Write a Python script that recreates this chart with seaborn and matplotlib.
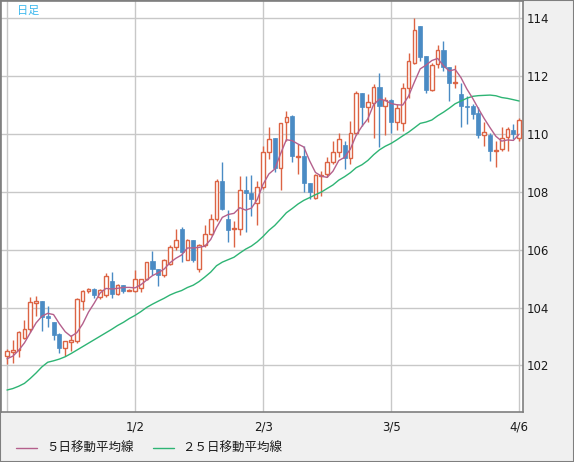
import numpy as np
import pandas as pd
import matplotlib
matplotlib.use("Agg")
import matplotlib.pyplot as plt
import seaborn as sns
from matplotlib.lines import Line2D
from matplotlib.patches import Rectangle

# ---------------- data ----------------
opens = [102.33, 102.47, 102.53, 102.96, 103.27, 104.16, 104.22, 103.71, 103.49, 103.08,
         102.61, 102.81, 102.85, 104.23, 104.56, 104.65, 104.37, 104.42, 104.91, 104.46,
         104.77, 104.59, 104.57, 104.69, 105.00, 105.60, 105.34, 105.11, 105.52, 106.09,
         106.72, 105.65, 106.32, 105.34, 106.15, 106.55, 107.07, 108.39, 107.05, 106.70,
         106.73, 108.05, 107.97, 107.62, 108.16, 109.37, 109.85, 108.82, 110.43, 110.61,
         109.20, 109.25, 108.32, 107.79, 108.56, 108.62, 109.02, 109.37, 109.62, 109.16,
         110.03, 111.41, 110.92, 111.09, 111.63, 110.97, 111.17, 110.40, 110.37, 111.58,
         112.47, 113.73, 112.70, 111.53, 112.43, 112.89, 112.32, 111.76, 111.40, 110.97,
         110.97, 110.74, 109.97, 109.97, 109.40, 109.48, 109.90, 110.14, 109.88]
highs = [102.56, 102.87, 103.19, 103.56, 104.37, 104.40, 104.22, 104.04, 103.50, 103.13,
         102.84, 103.05, 104.33, 104.62, 104.69, 104.66, 104.65, 105.19, 105.23, 104.83,
         104.78, 104.63, 105.29, 105.00, 105.58, 105.94, 105.34, 105.69, 106.15, 106.72,
         106.78, 106.38, 106.32, 106.20, 106.84, 107.24, 108.45, 109.02, 107.36, 107.01,
         108.56, 108.56, 108.60, 108.39, 109.60, 110.23, 109.85, 110.38, 110.80, 110.67,
         109.66, 109.60, 108.32, 108.62, 108.73, 109.19, 109.77, 110.05, 109.77, 110.46,
         111.49, 111.41, 111.38, 111.72, 112.12, 111.28, 111.20, 111.03, 111.78, 112.81,
         114.00, 113.73, 112.70, 112.47, 113.08, 113.22, 112.32, 112.39, 111.78, 111.32,
         111.05, 110.92, 110.40, 110.02, 109.77, 110.23, 110.23, 110.34, 110.57]
lows = [102.04, 102.09, 102.30, 102.93, 103.16, 103.70, 103.19, 103.33, 102.87, 102.43,
        102.32, 102.50, 102.79, 103.91, 104.50, 104.33, 104.30, 104.37, 104.34, 104.42,
        104.50, 104.57, 104.54, 104.54, 104.94, 105.11, 104.73, 105.06, 105.46, 105.98,
        105.57, 105.63, 105.57, 105.23, 106.10, 106.50, 107.01, 107.36, 106.26, 106.09,
        106.50, 106.60, 107.18, 106.84, 108.10, 109.14, 108.68, 108.05, 109.77, 109.02,
        108.62, 107.99, 107.76, 107.76, 107.87, 108.50, 108.96, 109.19, 108.79, 108.96,
        109.97, 110.29, 110.40, 109.88, 109.54, 109.97, 110.05, 110.14, 110.11, 111.26,
        112.41, 112.53, 111.43, 111.49, 112.30, 112.18, 111.15, 111.60, 110.25, 110.34,
        110.52, 109.88, 109.60, 109.08, 108.85, 109.42, 109.42, 109.82, 109.77]
closes = [102.50, 102.53, 103.15, 103.27, 104.19, 104.22, 103.68, 103.65, 103.05, 102.61,
          102.84, 102.87, 104.29, 104.56, 104.65, 104.42, 104.60, 105.08, 104.46, 104.77,
          104.57, 104.61, 105.00, 105.00, 105.58, 105.34, 105.11, 105.63, 106.09, 106.34,
          105.92, 106.32, 105.65, 106.18, 106.55, 107.07, 108.39, 107.41, 106.67, 106.75,
          108.05, 107.97, 107.75, 108.16, 109.39, 109.83, 108.82, 110.38, 110.60, 109.23,
          109.25, 108.30, 107.99, 108.59, 108.60, 109.02, 109.37, 109.83, 109.16, 110.03,
          111.41, 110.92, 111.11, 111.63, 110.97, 111.17, 110.40, 110.89, 111.58, 112.53,
          113.59, 112.68, 111.53, 112.38, 112.89, 112.32, 111.78, 111.80, 110.97, 110.94,
          110.71, 109.97, 110.08, 109.40, 109.45, 109.88, 110.17, 110.00, 110.48]

# moving-average values before enough visible closes exist
ma5_head = [102.23, 102.32, 102.52, 102.78]
ma25_head = [101.15, 101.20, 101.28, 101.38, 101.55, 101.74, 101.95, 102.11, 102.16, 102.22,
             102.30, 102.41, 102.53, 102.65, 102.77, 102.89, 103.01, 103.13, 103.25, 103.38,
             103.49, 103.62, 103.73, 103.86]

xtick_idx = [0, 22, 44, 66, 88]
xtick_labels = ["", "1/2", "2/3", "3/5", "4/6"]
ytick_vals = [102, 104, 106, 108, 110, 112, 114]
legend_labels = ["５日移動平均線", "２５日移動平均線"]
title_text = "日足"

# ---------------- build frame ----------------
df = pd.DataFrame({"open": opens, "high": highs, "low": lows, "close": closes})
df["idx"] = np.arange(len(df))
ma5 = df["close"].rolling(5).mean().to_numpy()
ma5[:len(ma5_head)] = ma5_head
ma25 = df["close"].rolling(25).mean().to_numpy()
ma25[:len(ma25_head)] = ma25_head
df["ma5"] = ma5
df["ma25"] = ma25

RED = "#dc6444"
BLUE = "#4a8bc4"
C_MA5 = "#b4608c"
C_MA25 = "#2eb474"

sns.set_theme(style="white")
plt.rcParams["font.family"] = ["DejaVu Sans", "Noto Sans CJK JP"]

W, H = 574, 462
fig = plt.figure(figsize=(W / 100, H / 100), dpi=100, facecolor="#f0f0f0")
ax = fig.add_axes([1 / W, (H - 412) / H, 522 / W, 411 / H])
ax.set_facecolor("white")

up = df[df["close"] >= df["open"]]
dn = df[df["close"] < df["open"]]

# wicks
ax.vlines(up["idx"], up["low"], up["high"], colors=RED, linewidth=1, zorder=2)
ax.vlines(dn["idx"], dn["low"], dn["high"], colors=BLUE, linewidth=1, zorder=2)
# bodies
ax.bar(up["idx"], np.maximum(up["close"] - up["open"], 0.02), bottom=up["open"],
       width=0.62, facecolor="white", edgecolor=RED, linewidth=1, zorder=3)
ax.bar(dn["idx"], np.maximum(dn["open"] - dn["close"], 0.02), bottom=dn["close"],
       width=0.7, facecolor=BLUE, edgecolor=BLUE, linewidth=0.5, zorder=3)

# moving averages
sns.lineplot(data=df, x="idx", y="ma25", color=C_MA25, linewidth=1, ax=ax, zorder=4, sort=False)
sns.lineplot(data=df, x="idx", y="ma5", color=C_MA5, linewidth=1, ax=ax, zorder=5, sort=False)

ax.set_xlim(-1.03, 88.66)
ax.set_ylim(100.39, 114.60)
ax.set_xlabel("")
ax.set_ylabel("")
ax.set_xticks(xtick_idx)
ax.set_xticklabels(xtick_labels)
ax.set_yticks(ytick_vals)
ax.set_yticklabels([str(v) for v in ytick_vals])
ax.yaxis.tick_right()
ax.tick_params(axis="both", length=0, labelsize=8.5, colors="#1a1a1a")
ax.tick_params(axis="x", pad=6)
ax.tick_params(axis="y", pad=3)
for lab in ax.get_yticklabels():
    lab.set_horizontalalignment("left")
ax.grid(True, color="#c8c8c8", linewidth=1)
ax.set_axisbelow(True)
for sp in ax.spines.values():
    sp.set_color("#7f7f7f")
    sp.set_linewidth(1.2)
    sp.set_visible(True)

# title label
fig.text(17 / W, 1 - 11 / H, title_text, color="#3cb8ee", fontsize=8,
         family=["Noto Sans CJK JP", "DejaVu Sans"], va="center", ha="left")

# legend (bottom)
ly = 1 - 448 / H
fig.add_artist(Line2D([16 / W, 37 / W], [ly, ly], color=C_MA5, linewidth=1, transform=fig.transFigure))
fig.text(46 / W, ly, legend_labels[0], fontsize=9, color="#1a1a1a",
         family=["Noto Sans CJK JP", "DejaVu Sans"], va="center", ha="left")
fig.add_artist(Line2D([153 / W, 174 / W], [ly, ly], color=C_MA25, linewidth=1, transform=fig.transFigure))
fig.text(182 / W, ly, legend_labels[1], fontsize=9, color="#1a1a1a",
         family=["Noto Sans CJK JP", "DejaVu Sans"], va="center", ha="left")

# outer frame
fig.add_artist(Rectangle((0, 0), 1, 1, transform=fig.transFigure, fill=False,
                         edgecolor="#7f7f7f", linewidth=1.5))

fig.savefig("out.png", dpi=100, facecolor=fig.get_facecolor())
